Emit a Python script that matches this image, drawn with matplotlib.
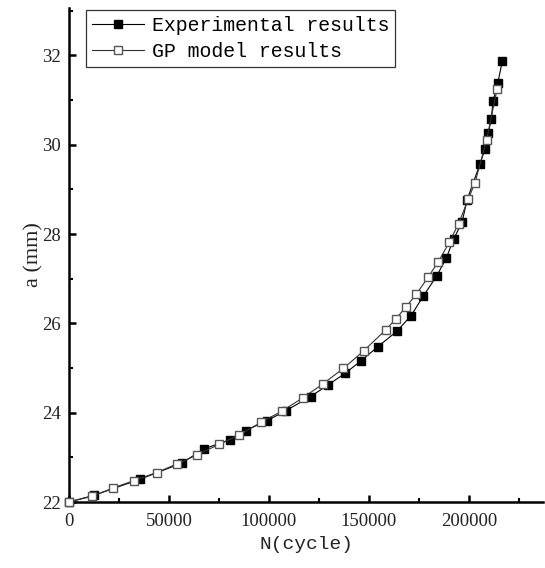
import matplotlib
matplotlib.use("Agg")
import matplotlib.pyplot as plt
from matplotlib.ticker import MultipleLocator

# Experimental results (filled squares)
exp_N = [0, 12500, 35500, 56350, 67500, 80250, 88250, 99000, 108250, 120750,
         129500, 138000, 146000, 154500, 163850, 171000, 177150, 183850, 188650,
         192350, 196500, 199000, 205500, 208000, 209650, 211150, 212000, 214400, 216650]
exp_a = [22.0, 22.15, 22.51, 22.87, 23.19, 23.39, 23.60, 23.82, 24.04, 24.36,
         24.62, 24.88, 25.16, 25.48, 25.82, 26.17, 26.61, 27.06, 27.46,
         27.89, 28.26, 28.76, 29.57, 29.90, 30.26, 30.58, 30.97, 31.38, 31.87]

# GP model results (open squares)
gp_N = [0, 11650, 21850, 32500, 43850, 53850, 63850, 75000, 84750, 95850,
        106250, 116850, 126850, 137150, 147500, 158250, 163250, 168500, 173650,
        179500, 184650, 190100, 194750, 199650, 203000, 208850, 214000]
gp_a = [22.0, 22.13, 22.31, 22.48, 22.66, 22.85, 23.05, 23.29, 23.49, 23.78,
        24.03, 24.33, 24.64, 24.99, 25.39, 25.85, 26.09, 26.37, 26.65,
        27.03, 27.38, 27.81, 28.23, 28.78, 29.15, 30.11, 31.24]

x_ticks = [0, 50000, 100000, 150000, 200000]
y_ticks = [22, 24, 26, 28, 30, 32]

fig = plt.figure(figsize=(5.45, 5.68), dpi=100)
ax = fig.add_axes([69/545, 1-502/568, (543-69)/545, (502-8)/568])

ax.plot(exp_N, exp_a, color='black', lw=0.8, marker='s', ms=6.3,
        mfc='black', mec='black', label='Experimental results', zorder=3,
        clip_on=False)
ax.plot(gp_N, gp_a, color='#333333', lw=0.8, marker='s', ms=6.3,
        mfc='white', mec='#555555', mew=1.0, label='GP model results', zorder=4,
        clip_on=False)

ax.set_xlim(0, 237000)
ax.set_ylim(22, 33.06)
ax.set_xticks(x_ticks)
ax.set_yticks(y_ticks)
ax.xaxis.set_minor_locator(MultipleLocator(25000))
ax.yaxis.set_minor_locator(MultipleLocator(1))

for s in ['top', 'right']:
    ax.spines[s].set_visible(False)
for s in ['left', 'bottom']:
    ax.spines[s].set_linewidth(1.8)

ax.tick_params(which='major', direction='in', length=5, width=1.8)
ax.tick_params(which='minor', direction='in', length=3, width=1.5)
ax.tick_params(axis='x', which='major', pad=8)
ax.tick_params(axis='y', which='major', pad=6)

tick_font = 'Liberation Serif'
for lab in ax.get_xticklabels() + ax.get_yticklabels():
    lab.set_fontfamily(tick_font)
    lab.set_fontsize(13.5)
    lab.set_color('#222222')

ax.set_xlabel('N(cycle)', fontfamily='Liberation Mono', fontsize=14, color='#222222', labelpad=4)
ax.set_ylabel('a (mm)', fontfamily='Liberation Serif', fontsize=16,
              color='#222222', labelpad=-1)

leg = ax.legend(loc='upper left', bbox_to_anchor=(86/545, 1-10/568),
                bbox_transform=fig.transFigure, borderaxespad=0,
                prop={'family': 'Liberation Mono', 'size': 14.3},
                handlelength=2.6, handletextpad=0.4, borderpad=0.3,
                labelspacing=0.35, fancybox=False, framealpha=1)
leg.get_frame().set_edgecolor('#333333')
leg.get_frame().set_linewidth(0.9)

fig.savefig('out.png', dpi=100)
